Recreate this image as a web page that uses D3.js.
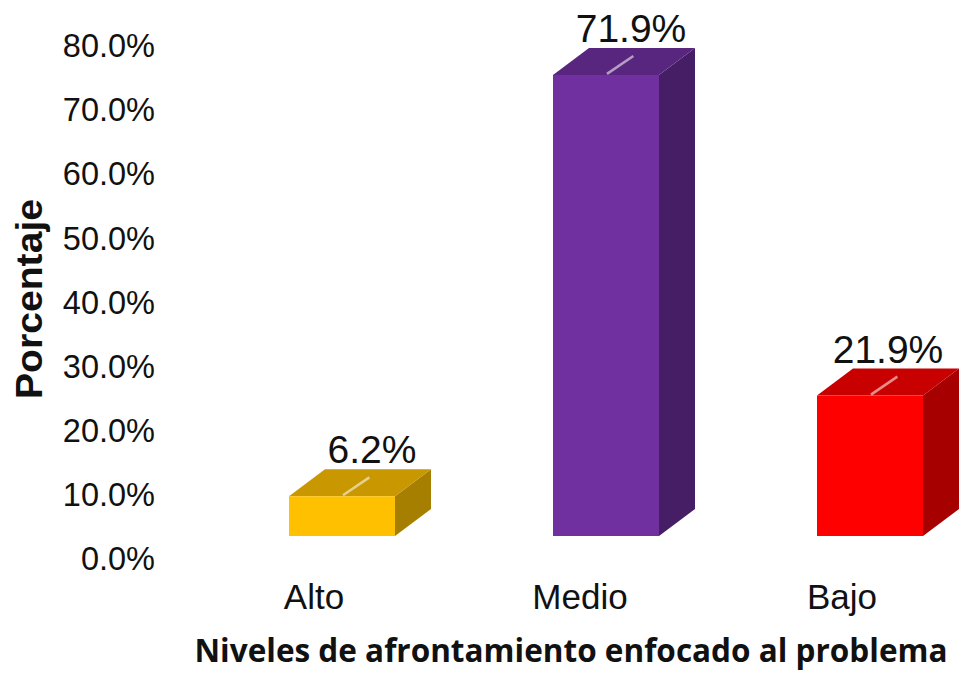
<!DOCTYPE html>
<html><head><meta charset="utf-8">
<script src="https://cdnjs.cloudflare.com/ajax/libs/d3/7.8.5/d3.min.js"></script>
<style>html,body{margin:0;padding:0;background:#fff}svg{display:block}text{fill:#111}</style>
</head><body><svg id="c" width="968" height="673"></svg>
<script>
const categories = ["Alto","Medio","Bajo"];
const values = [6.2,71.9,21.9];
const valueLabels = ["6.2%","71.9%","21.9%"];
const tickValues = [0,10,20,30,40,50,60,70,80];
const frontColors = ["#FFC000","#7030A0","#FF0000"];
const topColors = ["#C99700","#58267E","#C90000"];
const sideColors = ["#A67F00","#451E65","#A60000"];
const sans = "'Liberation Sans',Arial,sans-serif";

const svg = d3.select("#c");
const centers = {Alto:342, Medio:606, Bajo:870};
const barW = 106, dx = 36, dy = 27;
const yFront = d3.scaleLinear().domain([0,80]).range([536,23]);
const yAxisS = d3.scaleLinear().domain([0,80]).range([558,45]);

const axis = d3.axisLeft(yAxisS).tickValues(tickValues).tickFormat(d=>d.toFixed(1)+"%").tickSize(0).tickPadding(0);
const ga = svg.append("g").attr("transform","translate(155,0)").call(axis);
ga.select(".domain").remove();
ga.selectAll("text").attr("font-family",sans).attr("font-size",32.5).attr("dy","0.36em");

const bars = svg.selectAll("g.bar").data(categories).join("g").attr("class","bar");
const L = d=>centers[d]-barW/2, R = d=>centers[d]+barW/2;
const T = (d,i)=>yFront(values[i]), B = yFront(0);
bars.append("path").attr("fill",(d,i)=>sideColors[i])
  .attr("d",(d,i)=>d3.line()([[R(d),T(d,i)],[R(d)+dx,T(d,i)-dy],[R(d)+dx,B-dy],[R(d),B]])+"Z");
bars.append("path").attr("fill",(d,i)=>topColors[i])
  .attr("d",(d,i)=>d3.line()([[L(d),T(d,i)],[L(d)+dx,T(d,i)-dy],[R(d)+dx,T(d,i)-dy],[R(d),T(d,i)]])+"Z");
bars.append("rect").attr("fill",(d,i)=>frontColors[i])
  .attr("x",L).attr("y",T).attr("width",barW).attr("height",(d,i)=>B-T(d,i));
bars.append("line").attr("stroke","#fff").attr("stroke-opacity",0.55).attr("stroke-width",2.6)
  .attr("x1",d=>centers[d]+1).attr("y1",(d,i)=>T(d,i)-1)
  .attr("x2",d=>centers[d]+dx*0.76).attr("y2",(d,i)=>T(d,i)-dy*0.7);
bars.append("text").text((d,i)=>valueLabels[i])
  .attr("x",d=>centers[d]+(d==="Alto"?30:d==="Medio"?25:18)).attr("y",(d,i)=>T(d,i)-33)
  .attr("text-anchor","middle").attr("font-family",sans).attr("font-size",39);

const catX = {Alto:314, Medio:580, Bajo:842};
svg.selectAll("text.cat").data(categories).join("text").attr("class","cat").text(d=>d)
  .attr("x",d=>catX[d]).attr("y",609).attr("text-anchor","middle")
  .attr("font-family",sans).attr("font-size",35);

svg.append("text").text("Niveles de afrontamiento enfocado al problema")
  .attr("x",571).attr("y",662).attr("text-anchor","middle")
  .attr("font-family","'Open Sans',sans-serif").attr("font-weight",700).attr("font-size",32)
  .attr("textLength",753).attr("lengthAdjust","spacingAndGlyphs");
svg.append("text").text("Porcentaje")
  .attr("transform","translate(42,299) rotate(-90)").attr("text-anchor","middle")
  .attr("font-family",sans).attr("font-weight",700).attr("font-size",36)
  .attr("textLength",200).attr("lengthAdjust","spacingAndGlyphs");
</script></body></html>
